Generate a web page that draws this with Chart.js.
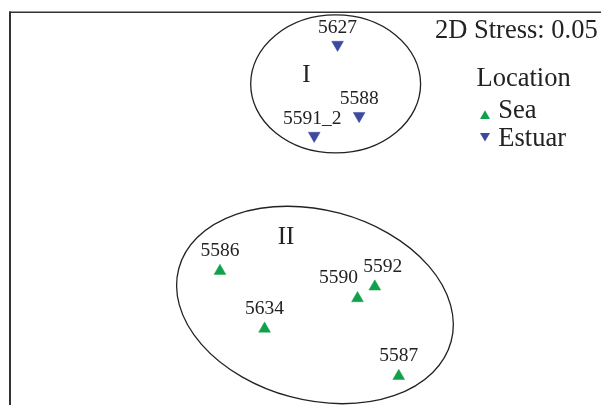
<!DOCTYPE html>
<html>
<head>
<meta charset="utf-8">
<script src="https://cdn.jsdelivr.net/npm/chart.js@4.4.1/dist/chart.umd.min.js"></script>
<style>
  html, body { margin: 0; padding: 0; background: #fff; }
  canvas { display: block; }
</style>
</head>
<body>
<canvas id="mds" width="601" height="405"></canvas>
<script>
// nMDS ordination - sample sites by location

// Sea samples
const seaLabels = ["5586", "5634", "5590", "5592", "5587"];
const seaX = [-0.579, -0.277, 0.352, 0.469, 0.631];
const seaY = [-0.423, -0.814, -0.608, -0.529, -1.134];

// Estuary samples
const estLabels = ["5627", "5588", "5591_2"];
const estX = [0.217, 0.363, 0.059];
const estY = [1.109, 0.627, 0.493];

// cluster ellipses (I, II)
const groupNames = ["I", "II"];
const groupCx = [0.204, 0.064];
const groupCy = [0.843, -0.653];
const groupRx = [0.575, 0.954];
const groupRy = [0.467, 0.643];
const groupRot = [0, 15];
const groupTextX = [0.007, -0.132];
const groupTextY = [0.858, -0.240];

const stressText = "2D Stress: 0.05";
const legendTitle = "Location";

const SEA_COLOR = "#13a04c";
const EST_COLOR = "#3c4ba0";
const INK = "#222";
const SERIF = "'Liberation Serif', 'DejaVu Serif', serif";

// small nudges so labels don't sit on top of each other
const labelNudge = { "5590": -19, "5592": 8, "5591_2": -2 };

function toPoints(xs, ys, labels) {
  return xs.map((x, i) => ({ x, y: ys[i], label: labels[i] }));
}

function triangle(ctx, x, y, r, down) {
  const s = down ? -1 : 1;
  ctx.beginPath();
  ctx.moveTo(x, y - s * r);
  ctx.lineTo(x + r * 0.866, y + s * r / 2);
  ctx.lineTo(x - r * 0.866, y + s * r / 2);
  ctx.closePath();
  ctx.fill();
}

// frame, ellipses, labels, legend
const mdsDecor = {
  id: "mdsDecor",
  beforeDatasetsDraw(chart) {
    const { ctx, scales: { x, y } } = chart;
    const unit = x.getPixelForValue(1) - x.getPixelForValue(0);
    ctx.save();

    // frame (left + top only)
    ctx.strokeStyle = "#333";
    ctx.lineWidth = 2;
    ctx.beginPath();
    ctx.moveTo(10, 11.5);
    ctx.lineTo(10, 405);
    ctx.stroke();
    ctx.lineWidth = 1.5;
    ctx.beginPath();
    ctx.moveTo(9, 12.2);
    ctx.lineTo(601, 12.2);
    ctx.stroke();

    // cluster ellipses
    ctx.strokeStyle = INK;
    ctx.lineWidth = 1.3;
    groupNames.forEach((g, i) => {
      ctx.beginPath();
      ctx.ellipse(x.getPixelForValue(groupCx[i]), y.getPixelForValue(groupCy[i]),
        groupRx[i] * unit, groupRy[i] * unit, groupRot[i] * Math.PI / 180, 0, Math.PI * 2);
      ctx.stroke();
    });

    ctx.fillStyle = INK;
    ctx.textAlign = "center";
    ctx.textBaseline = "alphabetic";
    ctx.font = "25px " + SERIF;
    groupNames.forEach((g, i) => {
      ctx.fillText(g, x.getPixelForValue(groupTextX[i]), y.getPixelForValue(groupTextY[i]));
    });

    // sample labels above the markers
    ctx.font = "19.5px " + SERIF;
    chart.data.datasets.forEach((ds, di) => {
      const meta = chart.getDatasetMeta(di);
      meta.data.forEach((pt, i) => {
        const lab = ds.data[i].label;
        const dx = labelNudge[lab] || 0;
        const top = ds.rotation === 180 ? pt.y - 5 : pt.y - 8.4;
        ctx.fillText(lab, pt.x + dx, top - 6.5);
      });
    });

    // stress + legend
    ctx.textAlign = "left";
    ctx.font = "26.5px " + SERIF;
    ctx.fillText(stressText, 435, 38.3);
    ctx.fillText(legendTitle, 476.5, 85.7);
    ctx.fillText("Sea", 498.3, 118.3);
    ctx.fillText("Estuar", 498.3, 145.7);
    ctx.fillStyle = SEA_COLOR;
    triangle(ctx, 485, 116, 5.8, false);
    ctx.fillStyle = EST_COLOR;
    triangle(ctx, 485, 135.8, 5.8, true);

    ctx.restore();
  }
};

new Chart(document.getElementById("mds"), {
  type: "scatter",
  data: {
    datasets: [
      {
        label: "Sea",
        data: toPoints(seaX, seaY, seaLabels),
        pointStyle: "triangle",
        pointRadius: 6.8,
        backgroundColor: SEA_COLOR,
        borderColor: SEA_COLOR,
        borderWidth: 0.5
      },
      {
        label: "Estuar",
        data: toPoints(estX, estY, estLabels),
        pointStyle: "triangle",
        rotation: 180,
        pointRadius: 6.8,
        backgroundColor: EST_COLOR,
        borderColor: EST_COLOR,
        borderWidth: 0.5
      }
    ]
  },
  options: {
    responsive: false,
    animation: false,
    clip: false,
    layout: { autoPadding: false, padding: { left: 10, top: 12, right: 0, bottom: 0 } },
    plugins: { legend: { display: false }, tooltip: { enabled: false } },
    scales: {
      x: { type: "linear", display: false, min: -2, max: 2 },
      y: { type: "linear", display: false, min: -1.33, max: 1.33 }
    }
  },
  plugins: [mdsDecor]
});
</script>
</body>
</html>
